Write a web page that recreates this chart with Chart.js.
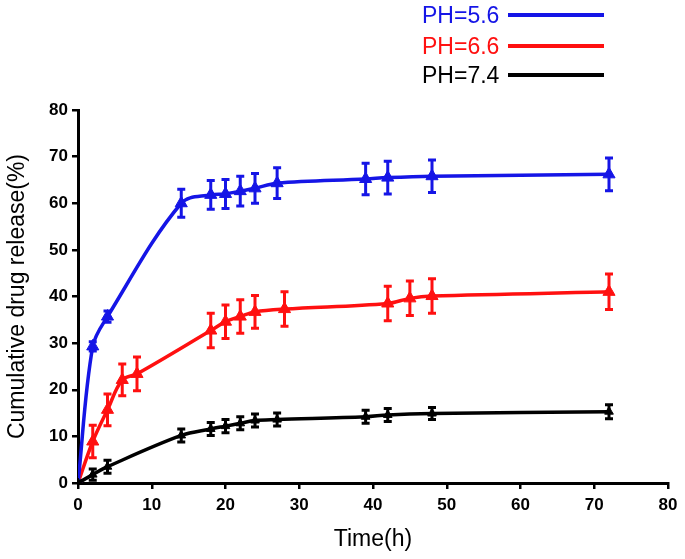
<!DOCTYPE html>
<html>
<head>
<meta charset="utf-8">
<script src="https://cdn.jsdelivr.net/npm/chart.js@4.4.0/dist/chart.umd.min.js"></script>
<style>
  html, body { margin: 0; padding: 0; background: #fff; }
  #wrap { width: 685px; height: 559px; position: relative; }
</style>
</head>
<body>
<div id="wrap"><canvas id="releaseChart"></canvas></div>
<script>
// sampling times (h)
const timesBlueBlack = [0, 2, 4, 14, 18, 20, 22, 24, 27, 39, 42, 48, 72];
const timesRed = [0, 2, 4, 6, 8, 18, 20, 22, 24, 28, 42, 45, 48, 72];

// cumulative release (%) and SD
const ph56 = [0, 29.3, 35.7, 60.0, 61.8, 62.0, 62.6, 63.2, 64.3, 65.2, 65.5, 65.8, 66.2];
const ph56Err = [0, 1.0, 1.2, 3.0, 3.1, 3.1, 3.2, 3.2, 3.3, 3.4, 3.5, 3.5, 3.5];
const ph66 = [0, 8.9, 15.7, 22.1, 23.4, 32.7, 34.6, 35.7, 36.7, 37.3, 38.5, 39.6, 40.1, 41.0];
const ph66Err = [0, 3.5, 3.4, 3.4, 3.6, 3.7, 3.6, 3.6, 3.5, 3.7, 3.7, 3.7, 3.7, 3.8];
const ph74 = [0, 1.8, 3.5, 10.2, 11.6, 12.2, 12.8, 13.4, 13.6, 14.2, 14.6, 14.9, 15.3];
const ph74Err = [0, 1.2, 1.4, 1.4, 1.4, 1.4, 1.4, 1.4, 1.4, 1.4, 1.4, 1.3, 1.5];

const seriesLabels = ['PH=5.6', 'PH=6.6', 'PH=7.4'];
const seriesColors = ['#1515e6', '#ff1010', '#000000'];

function toPoints(xs, ys) {
    return xs.map((x, i) => ({ x: x, y: ys[i] }));
}

const errorBars = {
    id: 'errorBars',
    afterDatasetsDraw(chart) {
        const ctx = chart.ctx;
        const yScale = chart.scales.y;
        const xScale = chart.scales.x;
        chart.data.datasets.forEach((ds) => {
            ctx.save();
            ctx.strokeStyle = ds.borderColor;
            ctx.lineWidth = 3;
            ds.data.forEach((p, i) => {
                const e = ds.errors[i];
                if (!e) return;
                const px = xScale.getPixelForValue(p.x);
                const top = yScale.getPixelForValue(p.y + e);
                const bot = yScale.getPixelForValue(p.y - e);
                ctx.beginPath();
                ctx.moveTo(px, top);
                ctx.lineTo(px, bot);
                ctx.moveTo(px - 4, top);
                ctx.lineTo(px + 4, top);
                ctx.moveTo(px - 4, bot);
                ctx.lineTo(px + 4, bot);
                ctx.stroke();
            });
            ctx.restore();
        });
    }
};

const sideLegend = {
    id: 'sideLegend',
    afterDraw(chart) {
        const ctx = chart.ctx;
        const rows = [17, 48, 77];
        ctx.save();
        ctx.font = '23px "Liberation Sans", Arial, sans-serif';
        ctx.textBaseline = 'middle';
        seriesLabels.forEach((label, i) => {
            ctx.fillStyle = seriesColors[i];
            ctx.fillText(label, 422, rows[i]);
            ctx.strokeStyle = seriesColors[i];
            ctx.lineWidth = 4;
            ctx.beginPath();
            ctx.moveTo(508, rows[i] - 2);
            ctx.lineTo(604, rows[i] - 2);
            ctx.stroke();
        });
        ctx.restore();
    }
};

function makeDataset(i, xs, ys, errs, radius) {
    return {
        label: seriesLabels[i],
        data: toPoints(xs, ys),
        errors: errs,
        borderColor: seriesColors[i],
        backgroundColor: seriesColors[i],
        borderWidth: 3.5,
        pointStyle: 'triangle',
        pointRadius: radius,
        pointBorderWidth: 1,
        tension: 0.35,
        fill: false
    };
}

const tickFont = { family: '"Liberation Sans", Arial, sans-serif', size: 17, weight: 'bold' };
const axisGrid = {
    display: true,
    drawOnChartArea: false,
    drawTicks: true,
    tickLength: 6,
    color: '#000',
    lineWidth: 2.5
};

new Chart(document.getElementById('releaseChart'), {
    type: 'line',
    data: {
        datasets: [
            makeDataset(2, timesBlueBlack, ph74, ph74Err, 5),
            makeDataset(0, timesBlueBlack, ph56, ph56Err, 7),
            makeDataset(1, timesRed, ph66, ph66Err, 7)
        ]
    },
    plugins: [errorBars, sideLegend],
    options: {
        responsive: true,
        maintainAspectRatio: false,
        animation: false,
        layout: { padding: { top: 110, right: 17, left: 0, bottom: 0 } },
        plugins: {
            legend: { display: false },
            tooltip: { enabled: false }
        },
        scales: {
            x: {
                type: 'linear',
                min: 0,
                max: 80,
                ticks: { stepSize: 10, color: '#000', font: tickFont, padding: 6 },
                grid: axisGrid,
                border: { color: '#000', width: 3 },
                title: {
                    display: true,
                    text: 'Time(h)',
                    color: '#000',
                    font: { family: '"Liberation Sans", Arial, sans-serif', size: 23 },
                    padding: { top: 0, bottom: 6 }
                },
                afterFit(scale) { scale.height = 76; }
            },
            y: {
                min: 0,
                max: 80,
                ticks: { stepSize: 10, color: '#000', font: tickFont, padding: 4 },
                grid: axisGrid,
                border: { color: '#000', width: 3 },
                title: {
                    display: true,
                    text: 'Cumulative drug release(%)',
                    color: '#000',
                    font: { family: '"Liberation Sans", Arial, sans-serif', size: 23 },
                    padding: { top: 4, bottom: 4 }
                },
                afterFit(scale) { scale.width = 78; }
            }
        }
    }
});
</script>
</body>
</html>
